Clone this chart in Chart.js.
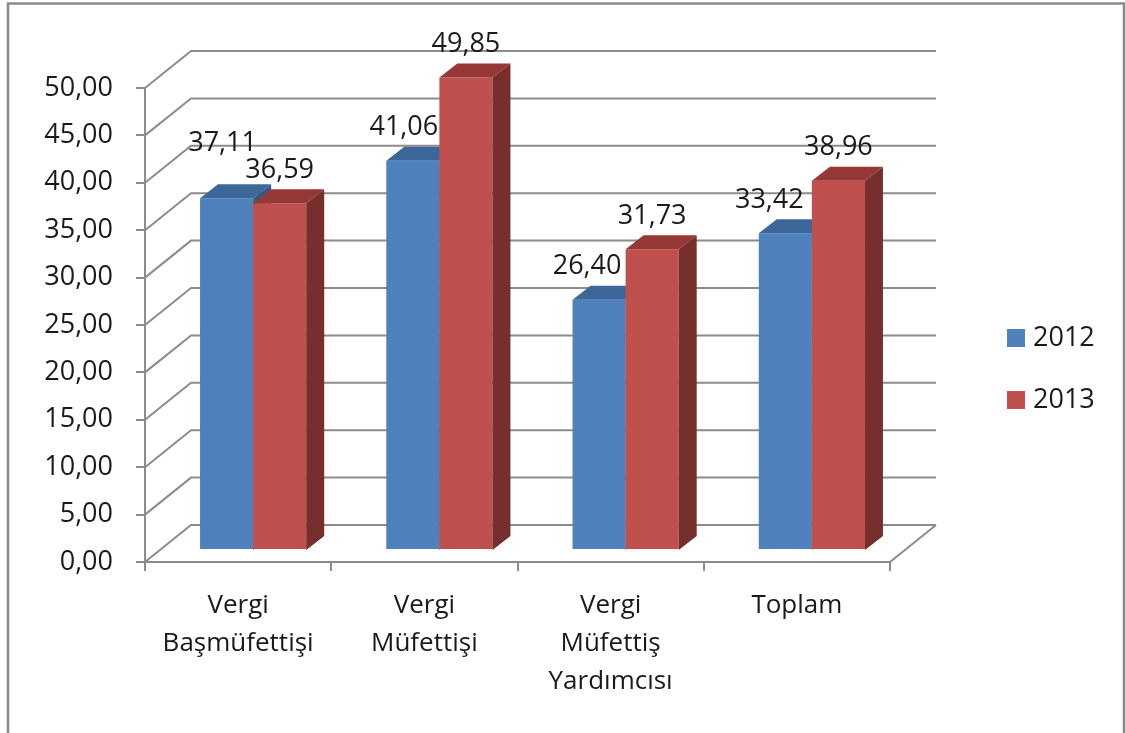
<!DOCTYPE html>
<html>
<head>
<meta charset="utf-8">
<script src="https://cdn.jsdelivr.net/npm/chart.js@4/dist/chart.umd.min.js"></script>
<style>
  html, body { margin: 0; padding: 0; background: #fff; }
  #wrap { width: 1125px; height: 733px; position: relative; }
</style>
</head>
<body>
<div id="wrap"><canvas id="grafik"></canvas></div>
<script>
// veriler
const kategoriler = [['Vergi', 'Başmüfettişi'], ['Vergi', 'Müfettişi'], ['Vergi', 'Müfettiş', 'Yardımcısı'], 'Toplam'];
const seriler     = ['2012', '2013'];
const deger2012   = [37.11, 41.06, 26.40, 33.42];
const deger2013   = [36.59, 49.85, 31.73, 38.96];
const eksenMin = 0, eksenMax = 50, eksenAdim = 5;

// görünüm
const YAZI   = '"Open Sans", sans-serif';
const CIZGI  = '#8c8c8c';
const DUVAR  = { dx: 46, dy: 37 };   // arka duvar kayması
const KAYMA  = { dx: 15, dy: 12 };   // sütunların derinlikteki yeri
const KALINLIK = { dx: 18, dy: 14 }; // sütun derinliği
// etiket kaydırmaları (Excel'in çakışma düzeltmesi)
const etiketKayma = [
  [[-4, -22], [-9, 0], [-12, 0], [-16, 0]],
  [[0, 0], [0, 0], [0, 0], [0, 0]]
];

const bicim = v => v.toFixed(2).replace('.', ',');

const uc = {
  id: 'ucBoyut',
  beforeDraw(chart) {
    const c = chart.ctx;
    c.save();
    c.fillStyle = '#fff';
    c.fillRect(0, 0, chart.width, chart.height);
    c.strokeStyle = '#8a8a8a';
    c.lineWidth = 2.5;
    c.strokeRect(8, 3.5, 1116, 760);
    c.restore();
  },
  beforeDatasetsDraw(chart) {
    const c = chart.ctx, y = chart.scales.y, a = chart.chartArea;
    c.save();
    c.strokeStyle = CIZGI;
    c.lineWidth = 2;
    for (let v = eksenMin; v <= eksenMax; v += eksenAdim) {
      const py = y.getPixelForValue(v);
      c.beginPath();
      c.moveTo(a.left, py);
      c.lineTo(a.left + DUVAR.dx, py - DUVAR.dy);
      c.lineTo(a.right + DUVAR.dx, py - DUVAR.dy);
      c.stroke();
    }
    // zemin sağ kenarı
    const py0 = y.getPixelForValue(eksenMin);
    c.beginPath();
    c.moveTo(a.right, py0);
    c.lineTo(a.right + DUVAR.dx, py0 - DUVAR.dy);
    c.stroke();
    c.restore();
    // sütunları kendimiz, soldan sağa serilere göre çiziyoruz
    return false;
  },
  afterDraw(chart) {
    const c = chart.ctx;
    const base = chart.scales.y.getPixelForValue(eksenMin);

    c.save();
    c.translate(KAYMA.dx, -KAYMA.dy);
    chart.data.datasets.forEach((ds, di) => {
      chart.getDatasetMeta(di).data.forEach(bar => {
        const { x, y, width } = bar.getProps(['x', 'y', 'width'], true);
        const l = x - width / 2, r = x + width / 2;
        bar.draw(c);
        // yan yüz
        c.fillStyle = ds.yanRenk;
        c.beginPath();
        c.moveTo(r, y);
        c.lineTo(r + KALINLIK.dx, y - KALINLIK.dy);
        c.lineTo(r + KALINLIK.dx, base - KALINLIK.dy);
        c.lineTo(r, base);
        c.closePath();
        c.fill();
        // üst yüz
        c.fillStyle = ds.ustRenk;
        c.beginPath();
        c.moveTo(l, y);
        c.lineTo(l + KALINLIK.dx, y - KALINLIK.dy);
        c.lineTo(r + KALINLIK.dx, y - KALINLIK.dy);
        c.lineTo(r, y);
        c.closePath();
        c.fill();
      });
    });
    c.restore();

    // değer etiketleri
    c.save();
    c.font = '27px ' + YAZI;
    c.fillStyle = '#1a1a1a';
    c.textAlign = 'center';
    c.textBaseline = 'middle';
    chart.data.datasets.forEach((ds, di) => {
      chart.getDatasetMeta(di).data.forEach((bar, i) => {
        const { x, y } = bar.getProps(['x', 'y'], true);
        const [nx, ny] = etiketKayma[di][i];
        c.fillText(bicim(ds.data[i]), x + KAYMA.dx + nx, y - KAYMA.dy - 33 + ny);
      });
    });

    // gösterge
    chart.data.datasets.forEach((ds, di) => {
      const gy = 338 + di * 62;
      c.fillStyle = ds.backgroundColor;
      c.fillRect(1007, gy - 9, 18, 18);
      c.fillStyle = '#1a1a1a';
      c.textAlign = 'left';
      c.fillText(ds.label, 1033, gy);
    });
    c.restore();
  }
};

const grafik = new Chart(document.getElementById('grafik'), {
  type: 'bar',
  data: {
    labels: kategoriler,
    datasets: [
      { label: seriler[0], data: deger2012, backgroundColor: '#4f81bd', ustRenk: '#3d6799', yanRenk: '#345880' },
      { label: seriler[1], data: deger2013, backgroundColor: '#c0504d', ustRenk: '#953836', yanRenk: '#772f2e' }
    ]
  },
  options: {
    responsive: true,
    maintainAspectRatio: false,
    animation: false,
    events: [],
    datasets: { bar: { categoryPercentage: 0.57, barPercentage: 1.0, borderWidth: 0, clip: false } },
    layout: { padding: { top: 88, right: 235, left: 0, bottom: 0 } },
    plugins: { legend: { display: false }, tooltip: { enabled: false } },
    scales: {
      x: {
        afterFit: s => { s.height = 171; },
        grid: { drawOnChartArea: false, color: CIZGI, lineWidth: 2, tickLength: 9, offset: true },
        border: { color: CIZGI, width: 2 },
        ticks: { color: '#1a1a1a', font: { family: YAZI, size: 26, lineHeight: 1.45 }, padding: 16, maxRotation: 0, autoSkip: false }
      },
      y: {
        min: eksenMin, max: eksenMax,
        afterFit: s => { s.width = 145; },
        grid: { drawOnChartArea: false, color: CIZGI, lineWidth: 2, tickLength: 9 },
        border: { color: CIZGI, width: 2 },
        ticks: { stepSize: eksenAdim, color: '#1a1a1a', font: { family: YAZI, size: 27 }, padding: 23, callback: v => bicim(v) }
      }
    }
  },
  plugins: [uc]
});
</script>
</body>
</html>
